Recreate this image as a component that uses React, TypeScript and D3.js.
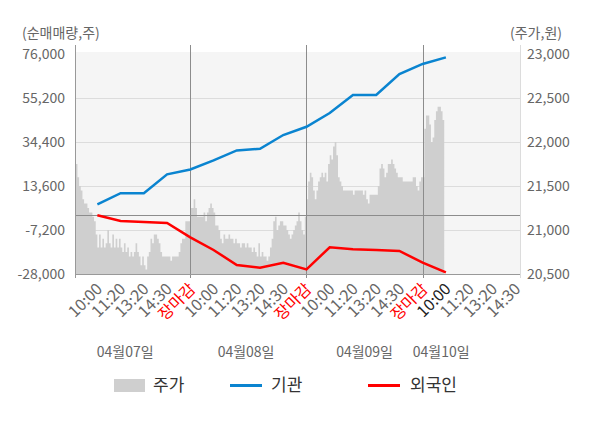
import { useEffect, useRef } from "react";
import * as d3 from "d3";

const days = ["04월07일", "04월08일", "04월09일", "04월10일"];
const dayLabelSlot = [2.2, 7.4, 12.5, 15.8];
const sessionTicks = ["10:00", "11:20", "13:20", "14:30", "장마감"];
const lastDayTicks = ["10:00", "11:20", "13:20", "14:30"];

const leftTicks = [76000, 55200, 34400, 13600, -7200, -28000];
const rightTicks = [23000, 22500, 22000, 21500, 21000, 20500];

// cumulative net buying (shares), one value per time label from 04/07 10:00
const institution = [
    4950, 10200, 10200, 19100, 21400, 25700, 30400, 31200, 37700, 41600, 48100,
    56600, 56600, 66500, 71300, 74400,
];
const foreign = [
    -250, -2950, -3400, -3900, -10650, -16650, -23750, -25000, -22650, -25850,
    -15350, -16300, -16650, -17100, -22650, -27200,
];

// share price (won), 14 samples per time label
const price0407 = [
    21750, 21750, 21600, 21500, 21450, 21350, 21300, 21300, 21250, 21200,
    21200, 21150, 21100, 20950, 20800, 20950, 20800, 20900, 20800, 20850,
    21000, 20850, 20800, 20950, 20800, 20900, 20800, 20900, 20800, 20750,
    20850, 20750, 20800, 20700, 20750, 20700, 20750, 20850, 20750, 20700,
    20600, 20700, 20600, 20550, 20700, 20750, 20900, 20850, 20950, 20950,
    20900, 20850, 20750, 20700, 20700, 20700, 20700, 20700, 20650, 20700,
    20700, 20700, 20700, 20750, 20850, 20900, 20900, 21100, 21100, 21100,
    21250,
];
const price0408 = [
    21250, 21350, 21250, 21150, 21150, 21150, 21150, 21200, 21100, 21200,
    21250, 21300, 21250, 21200, 21050, 21050, 21000, 20900, 20850, 20950,
    20900, 20900, 20950, 20900, 20900, 20850, 20900, 20850, 20850, 20800,
    20850, 20850, 20800, 20850, 20800, 20800, 20750, 20800, 20750, 20700,
    20850, 20700, 20750, 20700, 20700, 20650, 20700, 20800, 20900, 21100,
    21150, 21000, 21050, 21100, 21100, 21050, 21050, 21000, 20950, 20900,
    20950, 21000, 21050, 21100, 21200, 21100, 21000, 20950, 21150, 21350,
];
const price0409 = [
    21550, 21650, 21600, 21450, 21350, 21450, 21550, 21600, 21650, 21600,
    21650, 21550, 21750, 21850, 21800, 21950, 22000, 21850, 21600, 21550,
    21500, 21450, 21450, 21450, 21450, 21450, 21450, 21400, 21450, 21450,
    21450, 21450, 21450, 21400, 21450, 21350, 21300, 21400, 21400, 21400,
    21400, 21400, 21500, 21700, 21750, 21700, 21600, 21650, 21750, 21750,
    21800, 21750, 21700, 21650, 21600, 21600, 21600, 21550, 21550, 21550,
    21550, 21550, 21550, 21600, 21600, 21500, 21450, 21550, 21600, 21600,
];
const price0410 = [
    22150, 22300, 22300, 22200, 22000, 22050, 22250, 22350, 22400, 22400,
    22350, 22250, 22200,
];

const FONT = "'Noto Sans CJK KR', 'Noto Sans', sans-serif";

export default function App() {
    const svgRef = useRef<SVGSVGElement>(null);

    useEffect(() => {
        if (!svgRef.current) return;
        const width = 600;
        const height = 428;
        const margin = { top: 54, right: 80, bottom: 154, left: 76 };
        const plotTop = margin.top;
        const plotBottom = height - margin.bottom;
        const plotLeft = margin.left;
        const plotRight = width - margin.right;

        const svg = d3.select(svgRef.current);
        svg.selectAll("*").remove();
        svg.attr("width", width).attr("height", height);

        // Scales
        const x = d3.scaleLinear().domain([0.08, 19.19]).range([plotLeft, plotRight]);
        const yLeft = d3.scaleLinear().domain([-28000, 76000]).range([plotBottom, plotTop]);
        const yRight = d3.scaleLinear().domain([20500, 23000]).range([plotBottom, plotTop]);

        svg.append("defs")
            .append("clipPath")
            .attr("id", "plot-clip")
            .append("rect")
            .attr("x", plotLeft)
            .attr("y", plotTop - 2)
            .attr("width", plotRight - plotLeft)
            .attr("height", plotBottom - plotTop + 2);

        // background
        svg.append("rect")
            .attr("x", plotLeft)
            .attr("y", plotTop - 2)
            .attr("width", plotRight - plotLeft)
            .attr("height", plotBottom - plotTop + 2)
            .attr("fill", "#f5f5f5");

        // horizontal grid
        svg.append("g")
            .selectAll("line")
            .data(leftTicks.slice(1, -1))
            .join("line")
            .attr("x1", plotLeft)
            .attr("x2", plotRight)
            .attr("y1", (d) => Math.round(yLeft(d)) + 0.5)
            .attr("y2", (d) => Math.round(yLeft(d)) + 0.5)
            .attr("stroke", "#dcdcdc");

        // price area
        const prices = [...price0407, ...price0408, ...price0409, ...price0410];
        const area = d3
            .area<number>()
            .x((_, i) => x(i / 14))
            .y0(plotBottom)
            .y1((d) => yRight(d))
            .curve(d3.curveStepAfter);
        svg.append("path")
            .datum(prices)
            .attr("clip-path", "url(#plot-clip)")
            .attr("fill", "#cfcfcf")
            .attr("d", area);

        // zero line
        svg.append("line")
            .attr("x1", plotLeft)
            .attr("x2", plotRight)
            .attr("y1", Math.round(yLeft(0)) + 0.5)
            .attr("y2", Math.round(yLeft(0)) + 0.5)
            .attr("stroke", "#8c8c8c");

        // day dividers + axis lines
        const dividers = [5, 10, 15];
        svg.append("g")
            .selectAll("line")
            .data(dividers)
            .join("line")
            .attr("x1", (d) => Math.round(x(d)) + 0.5)
            .attr("x2", (d) => Math.round(x(d)) + 0.5)
            .attr("y1", plotTop - 9)
            .attr("y2", plotBottom + 4)
            .attr("stroke", "#8c8c8c");
        svg.append("line")
            .attr("x1", plotLeft - 0.5)
            .attr("x2", plotLeft - 0.5)
            .attr("y1", plotTop - 9)
            .attr("y2", plotBottom + 4)
            .attr("stroke", "#999");
        svg.append("line")
            .attr("x1", plotRight + 0.5)
            .attr("x2", plotRight + 0.5)
            .attr("y1", plotTop - 9)
            .attr("y2", plotBottom + 4)
            .attr("stroke", "#dcdcdc");
        svg.append("line")
            .attr("x1", plotLeft)
            .attr("x2", plotRight)
            .attr("y1", plotBottom + 0.5)
            .attr("y2", plotBottom + 0.5)
            .attr("stroke", "#999");

        // net buying lines
        const line = d3
            .line<number>()
            .x((_, i) => x(i + 1))
            .y((d) => yLeft(d));
        svg.append("path")
            .datum(institution)
            .attr("fill", "none")
            .attr("stroke", "#0a84d0")
            .attr("stroke-width", 2.5)
            .attr("d", line);
        svg.append("path")
            .datum(foreign)
            .attr("fill", "none")
            .attr("stroke", "#ff0000")
            .attr("stroke-width", 2.5)
            .attr("d", line);

        // left axis labels
        svg.append("g")
            .selectAll("text")
            .data(leftTicks)
            .join("text")
            .attr("x", plotLeft - 11)
            .attr("y", (d) => yLeft(d))
            .attr("dy", "0.35em")
            .attr("text-anchor", "end")
            .attr("font-size", "14px")
            .attr("fill", "#666")
            .text((d) => d3.format(",")(d).replace("−", "-"));

        // right axis labels
        svg.append("g")
            .selectAll("text")
            .data(rightTicks)
            .join("text")
            .attr("x", plotRight + 7)
            .attr("y", (d) => yRight(d))
            .attr("dy", "0.35em")
            .attr("font-size", "14px")
            .attr("fill", "#666")
            .text((d) => d3.format(",")(d));

        svg.append("text")
            .attr("x", 22)
            .attr("y", 33)
            .attr("dy", "0.35em")
            .attr("font-size", "14px")
            .attr("fill", "#666")
            .text("(순매매량,주)");
        svg.append("text")
            .attr("x", 562)
            .attr("y", 33)
            .attr("dy", "0.35em")
            .attr("text-anchor", "end")
            .attr("font-size", "14px")
            .attr("fill", "#666")
            .text("(주가,원)");

        // time labels
        const ticks = [
            ...sessionTicks,
            ...sessionTicks,
            ...sessionTicks,
            ...lastDayTicks,
        ].map((label, i) => ({ label, slot: i + 1 }));
        svg.append("g")
            .selectAll("text")
            .data(ticks)
            .join("text")
            .attr(
                "transform",
                (d) => `translate(${x(d.slot) + 6},${plotBottom + 16}) rotate(-45)`,
            )
            .attr("text-anchor", "end")
            .attr("font-size", "16px")
            .attr("fill", (d) =>
                d.label === "장마감" ? "#ff0000" : d.slot === 16 ? "#222" : "#666",
            )
            .text((d) => d.label);

        // date labels
        svg.append("g")
            .selectAll("text")
            .data(days)
            .join("text")
            .attr("x", (_, i) => x(dayLabelSlot[i]))
            .attr("y", 352)
            .attr("dy", "0.35em")
            .attr("text-anchor", "middle")
            .attr("font-size", "14px")
            .attr("fill", "#666")
            .text((d) => d);

        // legend
        const legend = svg.append("g").attr("transform", "translate(0,385)");
        legend.append("rect")
            .attr("x", 114)
            .attr("y", -6)
            .attr("width", 31)
            .attr("height", 13)
            .attr("fill", "#cfcfcf");
        legend.append("line")
            .attr("x1", 230)
            .attr("x2", 262)
            .attr("y1", 0.5)
            .attr("y2", 0.5)
            .attr("stroke", "#0a84d0")
            .attr("stroke-width", 3);
        legend.append("line")
            .attr("x1", 368)
            .attr("x2", 400)
            .attr("y1", 0.5)
            .attr("y2", 0.5)
            .attr("stroke", "#ff0000")
            .attr("stroke-width", 3);
        [
            ["주가", 153],
            ["기관", 271],
            ["외국인", 410],
        ].forEach(([label, lx]) => {
            legend.append("text")
                .attr("x", lx)
                .attr("y", 0)
                .attr("dy", "0.35em")
                .attr("font-size", "17px")
                .attr("fill", "#333")
                .text(label as string);
        });
    }, []);

    return (
        <svg
            ref={svgRef}
            style={{ position: "absolute", left: 0, top: 0, fontFamily: FONT, background: "#fff" }}
        ></svg>
    );
}
